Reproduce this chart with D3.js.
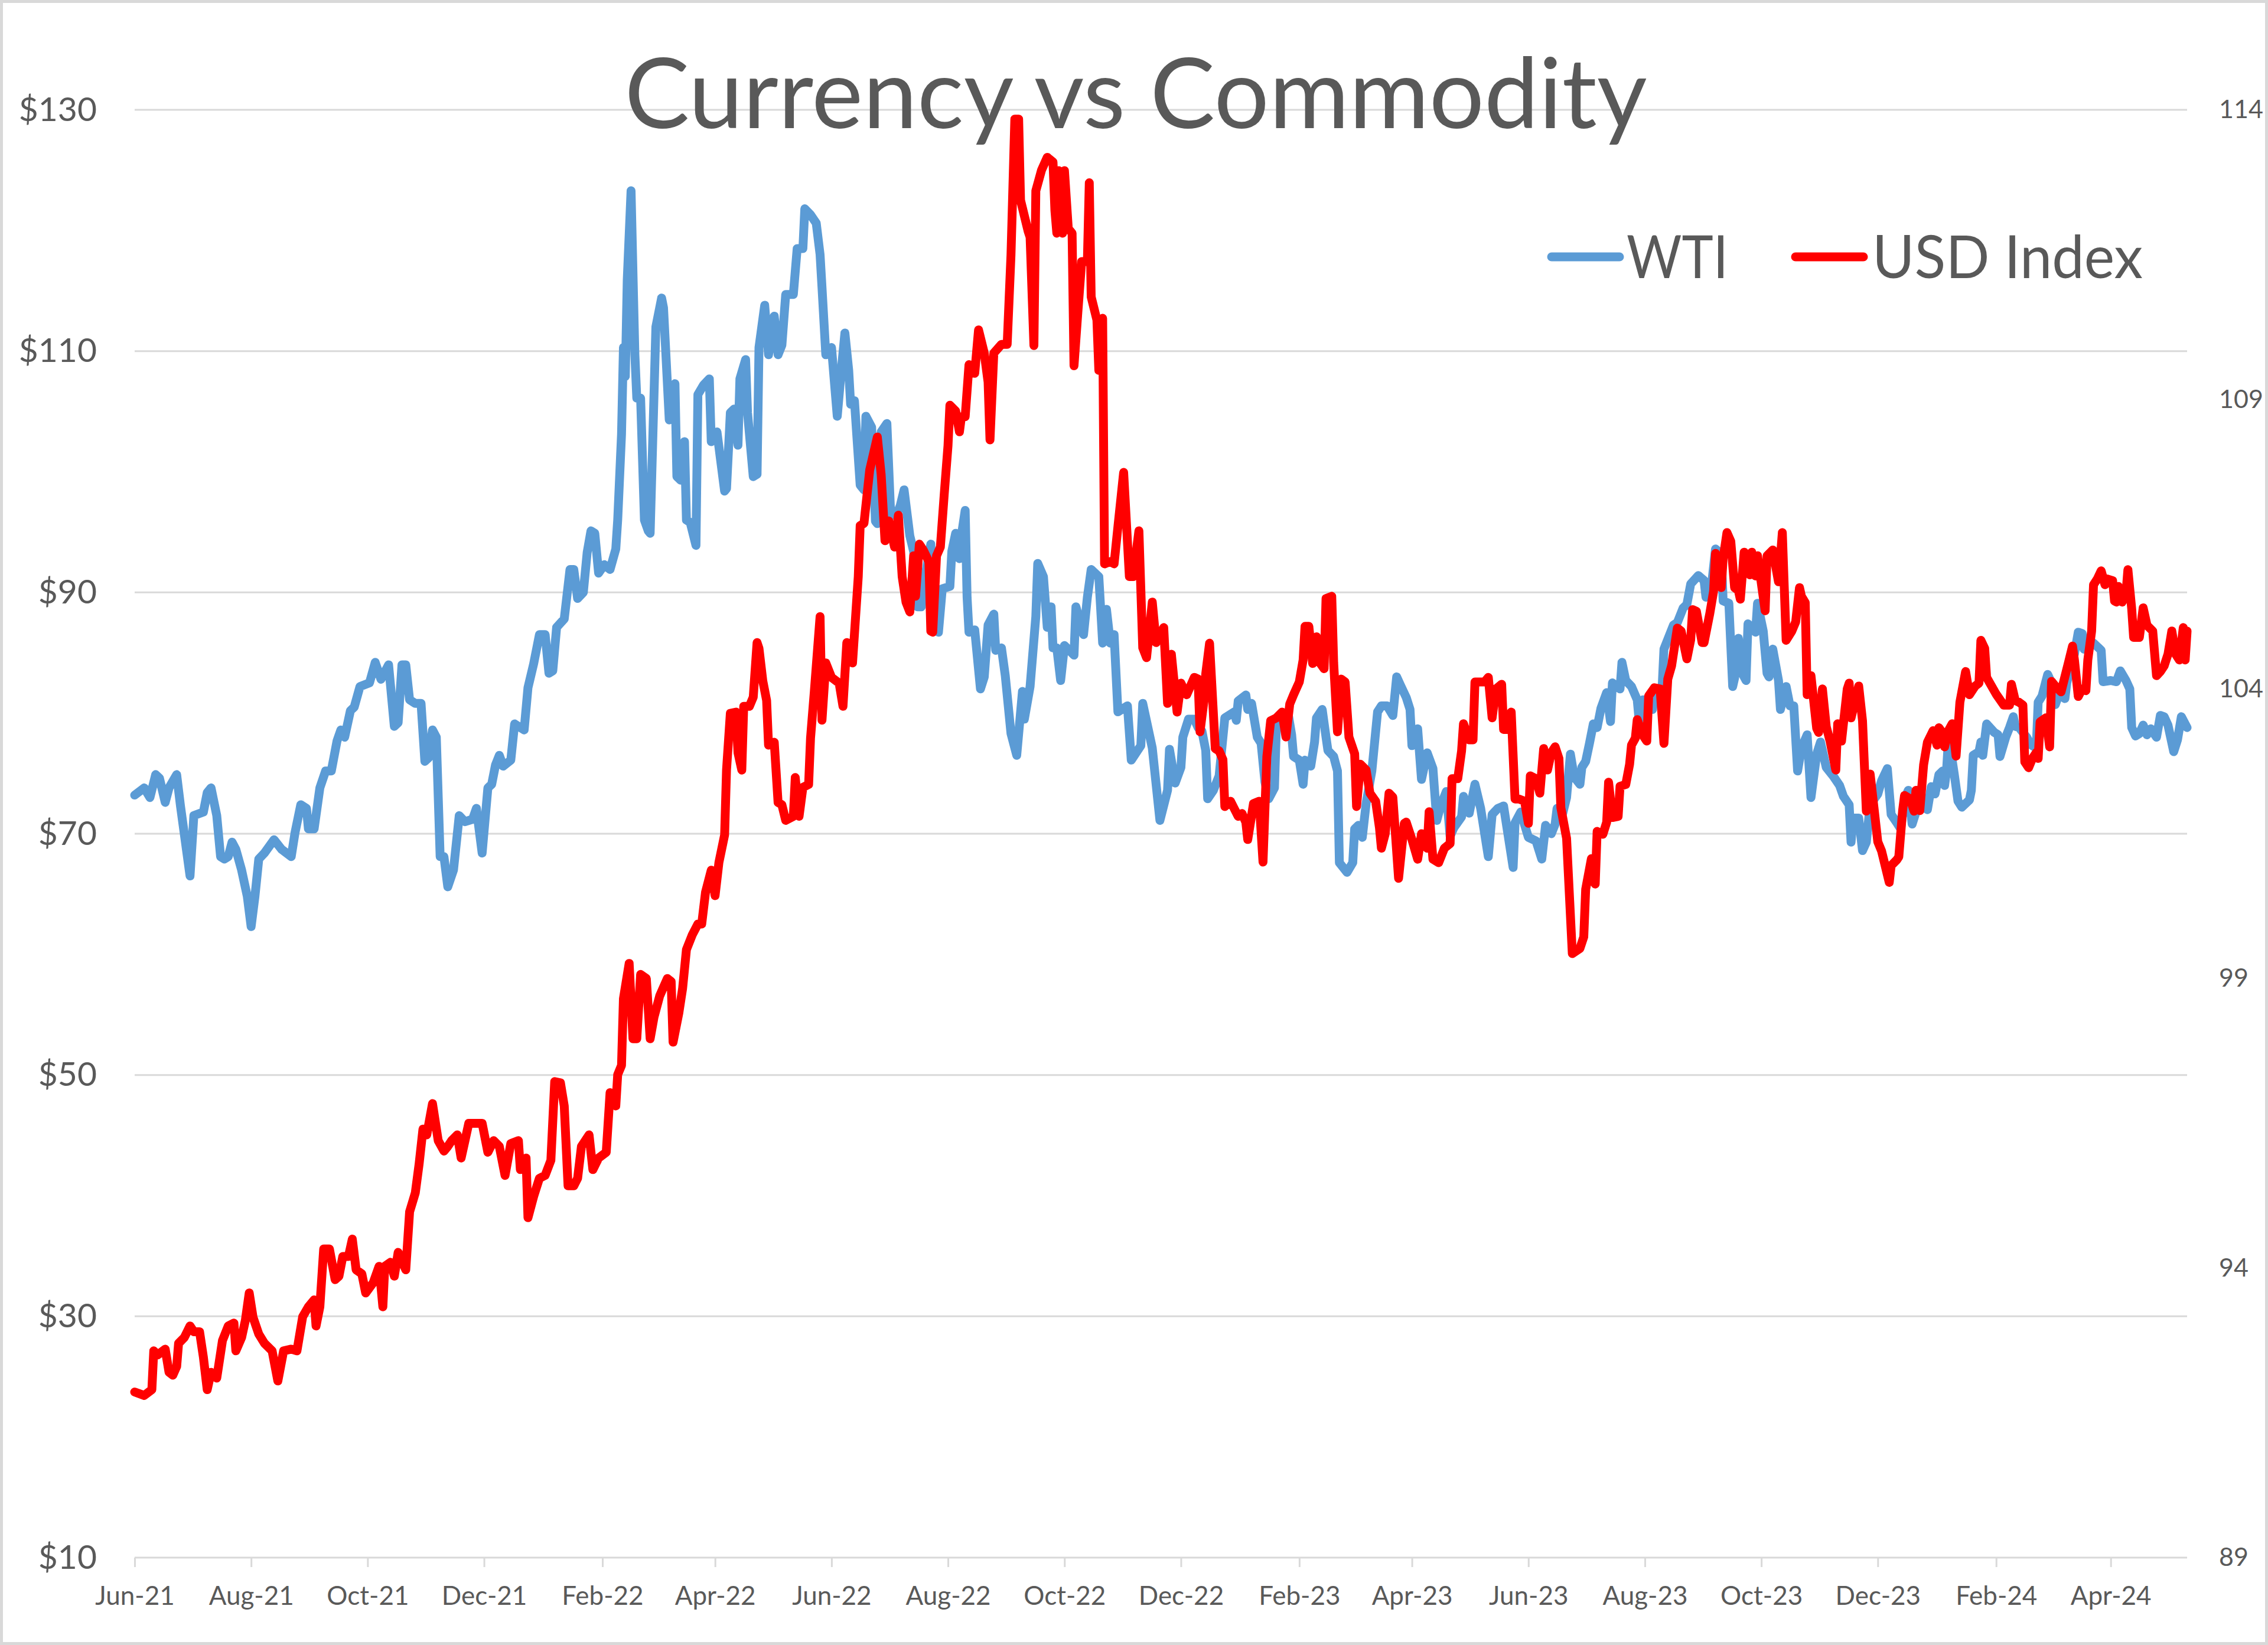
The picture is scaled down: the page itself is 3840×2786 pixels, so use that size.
<!DOCTYPE html>
<html><head><meta charset="utf-8">
<script src="https://cdn.jsdelivr.net/npm/d3@7"></script>
<style>body{margin:0;background:#fff}svg{display:block}</style>
</head><body>
<svg id="chart" width="3840" height="2786"></svg>
<script>
// ---- data ----
const chartTitle = "Currency vs Commodity";
const seriesNames = ["WTI", "USD Index"];
const startDate = "2021-06-21";
const endDate = "2024-05-31";
const xTickDates = ["2021-06-21","2021-08-21","2021-10-21","2021-12-21","2022-02-21","2022-04-21","2022-06-21","2022-08-21","2022-10-21","2022-12-21","2023-02-21","2023-04-21","2023-06-21","2023-08-21","2023-10-21","2023-12-21","2024-02-21","2024-04-21"];
const leftTicks = [10,30,50,70,90,110,130];
const rightTicks = [89,94,99,104,109,114];
// [days since startDate, value]
const wti = [[0,73.2],[5,73.8],[8,73.0],[11,74.9],[13,74.6],[16,72.6],[18,73.8],[22,74.9],[24,72.3],[29,66.5],[31,71.5],[36,71.8],[38,73.4],[40,73.8],[43,71.5],[45,68.1],[47,67.9],[49,68.1],[51,69.3],[53,68.7],[56,67.0],[59,64.8],[61,62.3],[63,64.8],[65,67.9],[68,68.4],[73,69.5],[77,68.7],[82,68.1],[84,70.1],[87,72.4],[90,72.1],[91,70.4],[94,70.4],[97,73.8],[100,75.2],[103,75.2],[106,77.7],[108,78.6],[110,78.0],[113,80.2],[115,80.5],[118,82.2],[123,82.5],[126,84.2],[129,82.8],[133,84.0],[136,78.9],[138,79.2],[140,84.0],[142,84.0],[144,81.1],[147,80.8],[150,80.8],[152,76.0],[154,76.3],[156,78.6],[158,78.0],[160,68.1],[162,68.1],[164,65.6],[167,67.0],[170,71.5],[173,71.0],[177,71.2],[179,72.1],[182,68.4],[185,73.8],[187,74.1],[189,75.7],[191,76.5],[193,75.6],[197,76.1],[199,79.1],[204,78.6],[206,82.1],[209,84.1],[212,86.5],[215,86.5],[217,83.3],[219,83.5],[221,87.1],[225,87.8],[228,91.9],[230,91.9],[232,89.5],[235,90.0],[237,93.3],[239,95.1],[241,94.9],[243,91.6],[246,92.3],[249,91.9],[252,93.6],[253,96.0],[255,103.1],[256,110.3],[257,107.9],[258,115.9],[260,123.3],[262,109.7],[263,106.1],[265,106.1],[267,96.0],[269,95.1],[270,94.9],[273,112.0],[276,114.4],[277,113.6],[280,104.3],[283,107.3],[284,99.6],[286,99.3],[288,102.5],[289,96.0],[291,95.8],[294,93.9],[295,106.4],[298,107.2],[301,107.7],[302,102.5],[305,103.3],[309,98.4],[310,98.6],[312,104.9],[314,105.2],[316,102.2],[317,107.7],[320,109.3],[321,104.9],[324,99.6],[326,99.8],[327,110.3],[330,113.8],[332,109.7],[335,112.9],[337,109.7],[339,110.5],[341,114.7],[345,114.7],[347,118.5],[350,118.5],[351,121.8],[354,121.3],[357,120.6],[359,118.0],[360,115.3],[362,109.7],[365,110.3],[368,104.6],[370,108.2],[372,111.5],[374,108.4],[375,105.6],[377,105.9],[380,98.9],[382,98.5],[383,104.6],[386,103.7],[388,95.9],[389,95.7],[391,103.3],[394,104.0],[396,96.4],[399,96.4],[401,97.2],[403,98.5],[406,94.7],[408,93.4],[410,88.8],[412,88.8],[414,91.3],[417,94.0],[418,89.6],[421,86.7],[423,90.3],[427,90.5],[428,93.4],[430,94.9],[432,92.8],[433,94.7],[435,96.8],[436,89.6],[437,86.7],[440,86.9],[443,82.0],[445,83.0],[447,87.3],[450,88.2],[451,85.2],[454,85.4],[456,83.1],[459,78.3],[462,76.5],[465,81.8],[466,79.5],[469,82.2],[472,88.0],[473,92.4],[476,91.3],[478,87.1],[480,88.8],[481,85.4],[483,85.4],[485,82.7],[487,85.6],[492,84.8],[493,88.8],[497,86.5],[499,89.6],[501,91.9],[505,91.3],[507,85.8],[509,88.6],[511,85.8],[513,86.5],[515,80.1],[520,80.6],[522,76.1],[527,77.3],[528,80.8],[533,77.1],[537,71.1],[541,73.6],[542,77.0],[545,74.2],[548,75.5],[549,78.0],[552,79.5],[555,79.5],[557,78.8],[559,78.5],[561,76.9],[562,72.9],[565,73.6],[568,74.8],[571,79.6],[576,80.1],[577,79.4],[578,81.0],[582,81.5],[583,80.3],[585,80.8],[588,78.0],[590,77.5],[592,74.3],[594,72.9],[597,73.8],[598,78.9],[603,79.8],[604,80.1],[606,78.2],[607,76.4],[610,76.1],[612,74.1],[613,76.1],[616,75.6],[618,77.6],[619,79.6],[622,80.3],[624,78.0],[625,76.9],[628,76.4],[630,75.2],[631,67.6],[635,66.8],[638,67.6],[639,70.4],[641,70.7],[643,69.7],[645,72.5],[648,75.2],[651,80.1],[653,80.6],[656,80.6],[659,79.8],[661,83.0],[663,82.3],[666,81.3],[668,80.3],[669,77.3],[672,78.7],[674,74.5],[677,76.7],[680,75.4],[682,71.1],[684,72.3],[687,73.5],[689,69.8],[691,70.5],[695,71.4],[696,73.1],[699,71.7],[702,74.1],[705,72.1],[709,68.1],[711,71.6],[714,72.1],[717,72.3],[722,67.2],[723,70.9],[726,71.8],[730,69.7],[734,69.4],[737,67.9],[739,70.7],[742,70.0],[744,70.8],[745,72.1],[748,71.7],[750,73.0],[752,76.6],[754,74.7],[757,74.1],[758,75.5],[760,76.0],[762,77.5],[764,79.1],[766,78.8],[768,80.4],[771,81.7],[773,79.3],[774,82.5],[778,82.0],[779,84.2],[781,82.7],[784,82.2],[787,81.1],[788,79.4],[790,81.1],[792,80.3],[795,80.3],[796,81.6],[798,82.0],[800,82.0],[801,85.3],[804,86.5],[806,87.3],[808,87.5],[811,88.7],[813,89.0],[815,90.7],[819,91.4],[822,91.0],[823,89.6],[826,90.7],[828,93.6],[831,93.2],[832,89.3],[835,89.1],[837,82.2],[838,82.9],[840,86.2],[842,83.3],[844,82.7],[845,87.4],[849,86.7],[850,89.1],[853,86.8],[855,83.3],[856,83.0],[858,85.3],[861,82.7],[862,80.3],[865,82.2],[867,80.6],[869,80.6],[871,75.2],[873,77.1],[876,78.2],[878,73.0],[881,76.6],[883,77.6],[886,75.5],[890,74.7],[893,74.0],[895,73.1],[898,72.4],[899,69.3],[900,71.3],[903,71.3],[905,68.6],[907,69.3],[909,72.4],[913,73.3],[915,74.4],[918,75.4],[920,71.6],[923,70.9],[925,70.4],[927,72.9],[929,73.6],[931,70.8],[934,72.3],[935,72.4],[939,72.0],[941,73.9],[943,73.3],[945,74.9],[947,75.2],[948,74.0],[949,75.2],[950,77.8],[951,77.1],[953,75.0],[955,72.7],[957,72.2],[961,72.8],[962,73.6],[963,76.5],[966,76.8],[967,77.6],[968,76.5],[970,79.1],[974,78.4],[976,78.2],[977,76.4],[980,78.0],[982,78.8],[984,79.7],[985,78.9],[987,78.8],[991,78.0],[993,77.4],[996,77.1],[997,80.9],[999,81.4],[1002,83.2],[1004,82.5],[1006,80.7],[1008,81.6],[1011,81.2],[1012,82.5],[1014,83.9],[1016,84.9],[1018,86.7],[1020,86.6],[1021,85.3],[1024,85.6],[1026,85.8],[1030,85.2],[1031,82.6],[1035,82.7],[1038,82.6],[1040,83.5],[1043,82.7],[1045,82.0],[1046,78.8],[1048,78.1],[1050,78.3],[1052,79.0],[1054,78.2],[1056,78.7],[1059,78.0],[1061,79.8],[1063,79.7],[1065,79.0],[1068,76.8],[1070,77.8],[1072,79.7],[1075,78.8]];
const usd = [[0,91.86],[5,91.8],[9,91.9],[10,92.57],[12,92.5],[16,92.6],[18,92.2],[20,92.15],[22,92.3],[23,92.7],[26,92.8],[29,93.0],[31,92.9],[34,92.9],[36,92.46],[38,91.9],[40,92.2],[43,92.1],[46,92.75],[49,93.0],[52,93.05],[53,92.57],[56,92.8],[58,93.1],[60,93.57],[62,93.15],[65,92.86],[68,92.7],[72,92.57],[75,92.05],[78,92.57],[82,92.6],[85,92.57],[88,93.16],[91,93.33],[94,93.45],[95,93.0],[97,93.33],[99,94.33],[102,94.33],[105,93.8],[107,93.86],[109,94.2],[112,94.2],[114,94.5],[116,93.97],[119,93.9],[121,93.57],[125,93.75],[128,94.03],[130,93.33],[131,94.03],[134,94.1],[136,93.86],[138,94.27],[142,93.97],[144,94.97],[147,95.3],[149,95.8],[151,96.4],[153,96.3],[156,96.84],[159,96.2],[162,96.02],[164,96.1],[166,96.2],[169,96.3],[171,95.9],[173,96.2],[175,96.5],[179,96.5],[182,96.5],[185,96.0],[188,96.2],[191,96.1],[194,95.6],[197,96.15],[201,96.2],[202,95.7],[205,95.9],[206,94.87],[209,95.24],[212,95.55],[215,95.6],[218,95.86],[220,97.22],[223,97.2],[225,96.8],[227,95.42],[230,95.42],[232,95.55],[234,96.1],[238,96.3],[240,95.7],[243,95.9],[247,96.0],[249,97.03],[252,96.8],[253,97.34],[255,97.5],[256,98.65],[259,99.26],[261,97.96],[263,97.96],[265,99.07],[268,99.0],[270,97.96],[272,98.33],[275,98.7],[279,99.0],[281,98.95],[282,97.9],[285,98.4],[287,98.83],[289,99.5],[292,99.75],[295,99.94],[297,99.94],[299,100.49],[302,100.87],[304,100.43],[306,101.0],[309,101.48],[310,102.6],[312,103.58],[315,103.6],[316,102.9],[318,102.6],[319,103.7],[322,103.7],[324,103.86],[326,104.8],[327,104.7],[329,104.14],[331,103.8],[332,103.03],[335,103.08],[337,102.04],[339,102.0],[341,101.73],[345,101.8],[346,102.47],[348,101.8],[350,102.3],[353,102.35],[354,103.15],[356,103.96],[359,105.25],[360,103.46],[362,104.45],[365,104.2],[369,104.1],[371,103.7],[373,104.8],[376,104.45],[379,105.94],[380,106.82],[382,106.86],[385,107.78],[389,108.35],[391,107.7],[393,106.56],[395,106.9],[398,106.45],[400,107.0],[402,105.94],[404,105.5],[406,105.33],[408,106.3],[409,105.6],[411,106.5],[413,106.4],[416,106.2],[417,105.0],[418,104.98],[420,106.3],[422,106.45],[424,107.35],[426,108.2],[427,108.9],[430,108.8],[432,108.44],[433,108.7],[435,108.7],[437,109.6],[440,109.45],[442,110.2],[445,109.8],[447,109.3],[448,108.3],[450,109.8],[454,109.95],[457,109.95],[459,111.5],[461,113.84],[463,113.84],[464,112.44],[468,111.9],[469,111.8],[471,109.93],[472,112.6],[475,112.96],[478,113.18],[481,113.1],[482,112.26],[483,111.87],[484,112.95],[486,111.87],[487,112.95],[489,111.95],[491,111.87],[492,109.58],[494,110.5],[496,111.38],[499,111.38],[500,112.74],[501,110.77],[504,110.37],[505,109.5],[507,110.4],[508,106.16],[511,106.2],[513,106.16],[515,106.8],[518,107.74],[521,105.94],[523,105.94],[526,106.73],[528,104.71],[530,104.54],[533,105.5],[535,104.8],[539,105.06],[541,103.75],[543,104.6],[546,103.6],[548,104.1],[551,103.9],[555,104.2],[557,104.17],[558,103.26],[560,103.78],[561,104.26],[563,104.79],[566,102.97],[568,102.93],[570,102.78],[571,101.97],[574,102.06],[578,101.8],[580,101.85],[582,101.7],[583,101.4],[586,102.02],[589,102.06],[591,101.01],[593,102.83],[595,103.45],[598,103.5],[601,103.6],[603,103.17],[605,103.74],[607,103.9],[610,104.12],[612,104.5],[613,105.08],[615,105.08],[617,104.44],[619,104.9],[621,104.44],[623,104.35],[624,105.56],[627,105.6],[628,104.45],[630,103.26],[632,104.17],[634,104.12],[636,103.17],[639,102.88],[640,101.97],[642,102.7],[645,102.6],[647,102.2],[650,102.06],[652,101.6],[653,101.25],[655,101.5],[657,102.2],[659,102.13],[662,100.73],[665,101.68],[666,101.7],[669,101.4],[672,101.06],[674,101.5],[677,101.25],[678,101.88],[680,101.06],[683,101.0],[686,101.25],[689,101.33],[690,102.45],[693,102.45],[695,102.93],[696,103.4],[699,103.12],[701,103.12],[702,104.12],[707,104.12],[709,104.2],[711,103.5],[713,104.0],[716,104.08],[717,103.3],[719,103.3],[721,103.6],[723,102.1],[725,102.1],[728,102.06],[730,101.68],[731,102.5],[734,102.45],[736,102.2],[738,102.97],[740,102.6],[742,102.9],[744,103.0],[746,102.8],[747,101.95],[750,101.42],[753,99.43],[757,99.52],[759,99.72],[760,100.54],[763,101.07],[765,100.63],[766,101.54],[769,101.49],[771,101.7],[772,102.39],[774,101.78],[777,101.8],[778,102.32],[781,102.35],[783,102.7],[784,103.03],[786,103.15],[787,103.47],[790,103.2],[792,103.1],[793,103.88],[796,104.02],[799,104.0],[801,103.06],[803,104.17],[805,104.4],[808,105.05],[810,105.0],[813,104.52],[815,104.85],[816,105.37],[818,105.34],[821,104.8],[822,104.8],[825,105.3],[827,105.69],[828,106.34],[831,105.75],[832,106.25],[834,106.7],[836,106.55],[838,105.75],[840,105.7],[841,105.55],[843,106.36],[846,105.97],[847,106.36],[849,105.95],[850,106.3],[854,105.35],[855,106.3],[858,106.4],[861,105.85],[863,106.7],[865,104.84],[868,105.0],[870,105.16],[872,105.75],[873,105.6],[875,105.49],[876,103.9],[878,104.23],[881,103.32],[882,103.25],[884,104.0],[886,103.35],[888,103.1],[891,102.6],[892,103.4],[894,103.1],[897,104.0],[898,104.1],[899,103.5],[903,104.05],[905,103.45],[907,101.89],[909,102.53],[911,101.95],[913,101.36],[915,101.2],[919,100.66],[920,100.95],[923,101.05],[924,101.1],[926,101.9],[927,102.16],[930,102.1],[932,101.89],[933,102.25],[934,102.0],[935,101.9],[937,102.69],[939,103.08],[942,103.28],[944,103.03],[945,103.33],[947,103.24],[948,103.0],[950,103.28],[952,103.4],[954,102.84],[956,103.77],[959,104.3],[961,103.9],[964,104.05],[966,104.1],[967,104.84],[969,104.7],[970,104.2],[975,103.91],[979,103.72],[982,103.72],[983,104.08],[985,103.8],[987,103.77],[989,103.72],[990,102.74],[992,102.64],[994,102.8],[996,102.9],[997,102.8],[998,103.43],[1001,103.5],[1003,103.0],[1004,104.13],[1006,104.05],[1009,103.95],[1013,104.47],[1015,104.74],[1016,104.5],[1018,103.87],[1020,104.0],[1022,103.97],[1023,104.5],[1025,105.0],[1026,105.8],[1028,105.9],[1030,106.04],[1032,105.8],[1033,105.9],[1036,105.87],[1037,105.52],[1038,105.5],[1039,105.77],[1041,105.5],[1043,105.65],[1044,106.06],[1046,105.38],[1047,104.89],[1050,104.89],[1052,105.4],[1054,105.1],[1057,105.0],[1059,104.23],[1061,104.3],[1063,104.4],[1065,104.6],[1067,105.0],[1069,104.6],[1071,104.5],[1073,105.06],[1074,104.5],[1075,105.0]];

// ---- drawing ----
const W = 3840, H = 2786;
const plot = {left: 228, right: 3703, top: 186, bottom: 2638};
const FONT = "Lato, 'Open Sans', 'Liberation Sans', sans-serif";
const TXT = "#595959", GRID = "#D9D9D9";
const BLUE = "#5B9BD5", RED = "#FF0000";
const LINE_W = 15;

const parse = d3.utcParse("%Y-%m-%d");
const t0 = parse(startDate);
const toDate = d => d3.utcDay.offset(t0, d);

const x = d3.scaleUtc().domain([t0, parse(endDate)]).range([plot.left, plot.right]);
const yL = d3.scaleLinear().domain([10, 130]).range([plot.bottom, plot.top]);
const yR = d3.scaleLinear().domain([89, 114]).range([plot.bottom, plot.top]);

const svg = d3.select("#chart").attr("font-family", FONT);
svg.append("rect").attr("x",0).attr("y",0).attr("width",W).attr("height",H).attr("fill","#fff");
svg.append("rect").attr("x",2.5).attr("y",2.5).attr("width",W-5).attr("height",H-5)
  .attr("fill","none").attr("stroke",GRID).attr("stroke-width",5);

// gridlines
svg.append("g").selectAll("line").data(leftTicks).join("line")
  .attr("x1", plot.left).attr("x2", plot.right)
  .attr("y1", d => yL(d)).attr("y2", d => yL(d))
  .attr("stroke", GRID).attr("stroke-width", 3);

// x axis
const xAxis = svg.append("g").attr("transform", `translate(0,${plot.bottom})`)
  .call(d3.axisBottom(x).tickValues(xTickDates.map(parse)).tickSize(16).tickPadding(33)
    .tickFormat(d3.utcFormat("%b-%y")));
xAxis.select(".domain").remove();
xAxis.selectAll(".tick line").attr("stroke", GRID).attr("stroke-width", 3);
xAxis.selectAll(".tick text").attr("fill", TXT).attr("font-size", 44).attr("font-family", FONT);

// left axis labels
const lAxis = svg.append("g").attr("transform", `translate(${plot.left},0)`)
  .call(d3.axisLeft(yL).tickValues(leftTicks).tickSize(0).tickPadding(64).tickFormat(d => "$" + d));
lAxis.select(".domain").remove();
lAxis.selectAll(".tick text").attr("fill", TXT).attr("font-size", 57).attr("font-family", FONT);

// right axis labels
const rAxis = svg.append("g").attr("transform", `translate(${plot.right},0)`)
  .call(d3.axisRight(yR).tickValues(rightTicks).tickSize(0).tickPadding(54));
rAxis.select(".domain").remove();
rAxis.selectAll(".tick text").attr("fill", TXT).attr("font-size", 43).attr("font-family", FONT);

// lines
const lineL = d3.line().x(d => x(toDate(d[0]))).y(d => yL(d[1]));
const lineR = d3.line().x(d => x(toDate(d[0]))).y(d => yR(d[1]));
svg.append("path").datum(wti).attr("d", lineL).attr("fill","none").attr("stroke",BLUE)
  .attr("stroke-width",LINE_W).attr("stroke-linejoin","round").attr("stroke-linecap","round");
svg.append("path").datum(usd).attr("d", lineR).attr("fill","none").attr("stroke",RED)
  .attr("stroke-width",LINE_W).attr("stroke-linejoin","round").attr("stroke-linecap","round");

// title
svg.append("text").attr("x", 1923).attr("y", 217).attr("text-anchor","middle")
  .attr("font-size", 164).attr("fill", TXT)
  .attr("textLength", 1731).attr("lengthAdjust","spacingAndGlyphs").text(chartTitle);

// legend
const legend = [
  {name: seriesNames[0], color: BLUE, x1: 2627, x2: 2742, tx: 2754, tw: 172},
  {name: seriesNames[1], color: RED, x1: 3040, x2: 3155, tx: 3170, tw: 458}
];
const lg = svg.append("g");
lg.selectAll("line").data(legend).join("line")
  .attr("x1", d => d.x1).attr("x2", d => d.x2).attr("y1", 435).attr("y2", 435)
  .attr("stroke", d => d.color).attr("stroke-width", LINE_W).attr("stroke-linecap","round");
lg.selectAll("text").data(legend).join("text")
  .attr("x", d => d.tx).attr("y", 471).attr("font-size", 100).attr("fill", TXT)
  .attr("textLength", d => d.tw).attr("lengthAdjust","spacingAndGlyphs").text(d => d.name);
</script>
</body></html>
